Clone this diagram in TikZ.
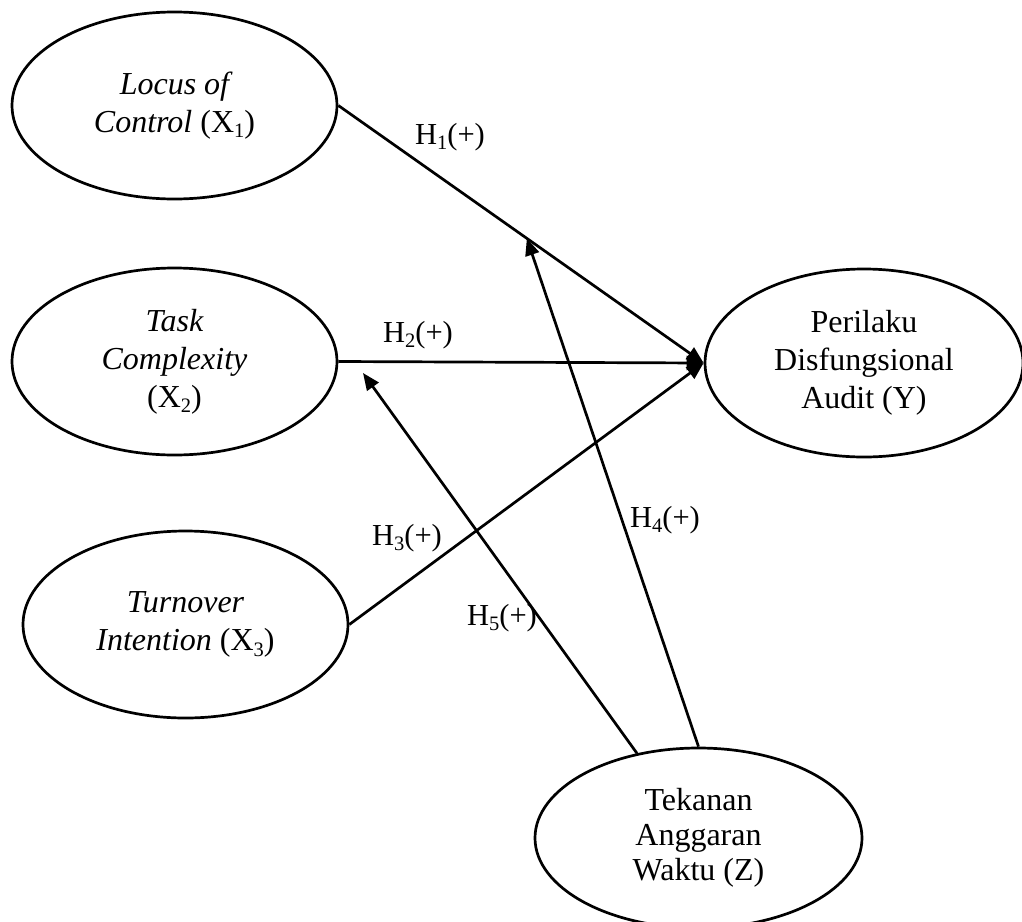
\documentclass[tikz,border=0pt]{standalone}
\usepackage{fontspec}
\setmainfont{Liberation Serif}
\usetikzlibrary{arrows.meta,shapes.geometric,calc}
\newcommand\subx[1]{\raisebox{-0.17em}{\fontsize{20.5}{20.5}\selectfont #1}}
\begin{document}
\begin{tikzpicture}[x=1pt,y=-1pt,
  every node/.style={font=\fontsize{30.5}{37}\selectfont},
  latent/.style={ellipse, draw, line width=2.7pt, minimum width=325pt, minimum height=187pt, inner sep=0pt, align=center, font=\fontsize{32}{38}\selectfont},
  link/.style={line width=2.7pt, -{Triangle[length=17pt,width=14pt]}},
  hyp/.style={inner sep=0pt}]
\useasboundingbox (0,0) rectangle (1022,921);
\clip (0,0) rectangle (1022,921);

\node[latent] (x1) at (174.5,105.5) {\itshape Locus of\\ {\itshape Control} (X\subx{1})};
\node[latent] (x2) at (174.5,361.5) {\itshape Task\\ \itshape Complexity\\ (X\subx{2})};
\node[latent] (x3) at (185.5,624.5) {\itshape Turnover\\ {\itshape Intention} (X\subx{3})};
\node[latent, minimum width=318pt, minimum height=188pt] (y) at (864,363) {Perilaku\\ Disfungsional\\ Audit (Y)};
\node[latent, minimum width=327pt, minimum height=180pt, font=\fontsize{32}{35}\selectfont] (z) at (698.5,838) {Tekanan\\ Anggaran\\ Waktu (Z)};

\coordinate (t4) at ($(x1.east)!0.516!(y.west)$);
\coordinate (t5) at (363,373);

\draw[link] (x1.east) -- (y.west);
\draw[link] (x2.east) -- (y.west);
\draw[link] (x3.east) -- (y.west);
\draw[link] (z.126) -- (t5);
\draw[link] (z.north) -- (t4);

\node[hyp] (h1) at (450,137) {H\subx{1}(+)};
\node[hyp] (h2) at (418,335) {H\subx{2}(+)};
\node[hyp] (h3) at (407,538) {H\subx{3}(+)};
\node[hyp] (h4) at (665,520) {H\subx{4}(+)};
\node[hyp] (h5) at (502,618) {H\subx{5}(+)};
\end{tikzpicture}
\end{document}
